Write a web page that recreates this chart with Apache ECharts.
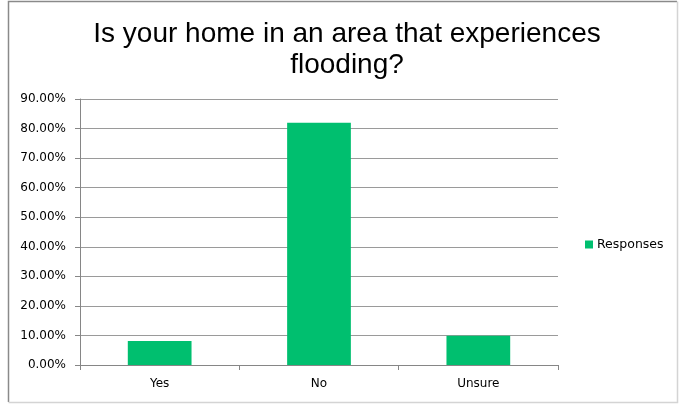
<!DOCTYPE html>
<html><head><meta charset="utf-8">
<script src="https://cdn.jsdelivr.net/npm/echarts@6/dist/echarts.min.js"></script>
<style>html,body{margin:0;padding:0;background:#fff}#c{width:679px;height:404px}</style>
</head><body><div id="c"></div>
<script>
var categories = ['Yes', 'No', 'Unsure'];
var responses = [8.1, 82.0, 9.9];
var seriesName = 'Responses';
var titleText = 'Is your home in an area that experiences\nflooding?';

var chart = echarts.init(document.getElementById('c'), null, {renderer: 'canvas'});
chart.setOption({
  animation: false,
  backgroundColor: '#fff',
  title: {
    text: titleText, left: 342, top: 14, textAlign: 'center',
    textStyle: {fontFamily: 'Liberation Sans', fontSize: 28, fontWeight: 'normal', color: '#000', lineHeight: 31}
  },
  legend: {
    data: [seriesName], left: 580, top: 233, itemWidth: 8, itemHeight: 8, itemGap: 3,
    icon: 'rect',
    textStyle: {fontFamily: 'DejaVu Sans', fontSize: 12.5, color: '#000', padding: [0,0,0,-1]}
  },
  grid: {left: 80, right: 121, top: 99, bottom: 39, containLabel: false},
  xAxis: {
    type: 'category', data: categories,
    axisLine: {lineStyle: {color: '#868686', width: 1}},
    axisTick: {show: true, alignWithLabel: false, length: 5, lineStyle: {color: '#868686'}},
    axisLabel: {fontFamily: 'DejaVu Sans', fontSize: 12, color: '#000', margin: 13}
  },
  yAxis: {
    type: 'value', min: 0, max: 90, interval: 10,
    axisLine: {show: true, lineStyle: {color: '#868686'}},
    axisTick: {show: true, length: 5, lineStyle: {color: '#868686'}},
    splitLine: {lineStyle: {color: '#9a9a9a', width: 1}},
    axisLabel: {fontFamily: 'DejaVu Sans', fontSize: 12, color: '#000', margin: 14,
      formatter: function (v) { return v.toFixed(2) + '%'; }}
  },
  series: [{
    name: seriesName, type: 'bar', data: responses, barWidth: '40%',
    itemStyle: {color: '#00bf6f'}
  }],
  graphic: [
    {type: 'polyline', shape: {points: [[8.5, 402], [8.5, 1.5], [677, 1.5]]}, style: {stroke: '#8a8a8a', lineWidth: 1.5, fill: null}, silent: true},
    {type: 'polyline', shape: {points: [[677.5, 1.5], [677.5, 402.5], [8.5, 402.5]]}, style: {stroke: '#d4d4d4', lineWidth: 1.5, fill: null}, silent: true}
  ]
});
</script></body></html>
